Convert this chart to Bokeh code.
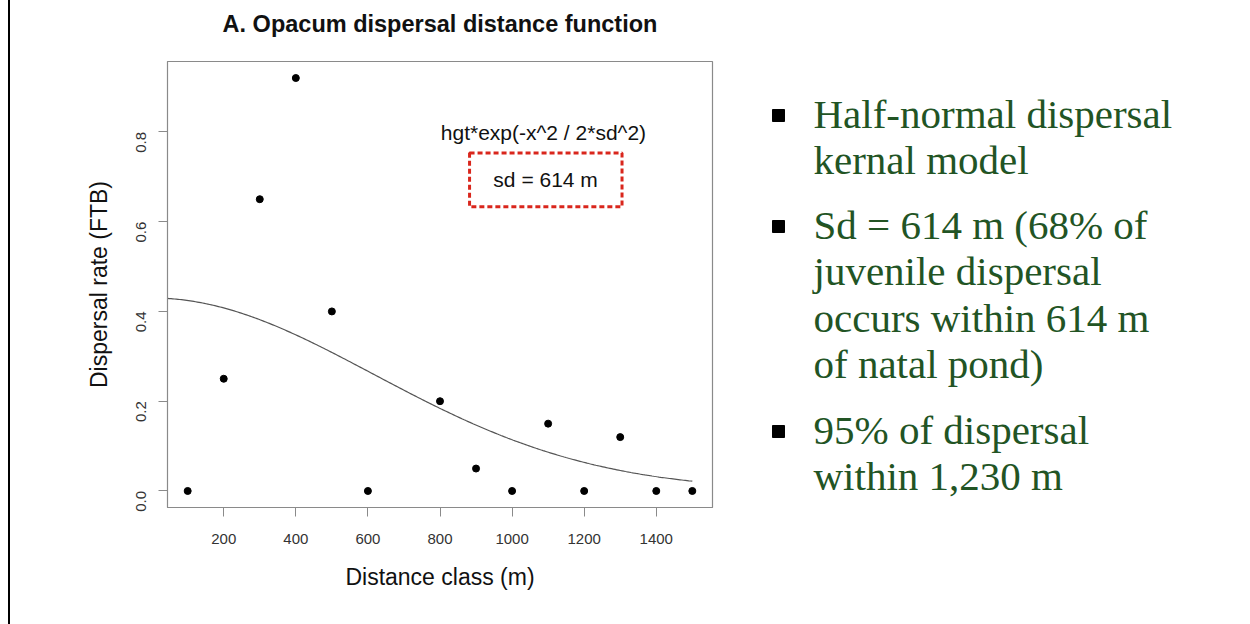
import math
import numpy as np
from bokeh.plotting import figure
from bokeh.models import (FixedTicker, PrintfTickFormatter, Label, BoxAnnotation,
                          Range1d, Div, LinearAxis)
from bokeh.layouts import row
from bokeh.embed import file_html
from bokeh.resources import INLINE
from bokeh.core.properties import value

# ---------------- data ----------------
distance = [100, 200, 300, 400, 500, 600, 800, 900, 1000, 1100, 1200, 1300, 1400, 1500]
rate = [0.0, 0.25, 0.65, 0.92, 0.40, 0.0, 0.20, 0.05, 0.0, 0.15, 0.0, 0.12, 0.0, 0.0]
x_ticks = [200, 400, 600, 800, 1000, 1200, 1400]
y_ticks = [0.0, 0.2, 0.4, 0.6, 0.8]
# fitted half-normal kernel parameters
hgt = 0.43
sd = 614
curve_x = np.linspace(44, 1500, 300)
curve_y = hgt * np.exp(-curve_x ** 2 / (2 * sd ** 2))

title_text = "A. Opacum dispersal distance function"
x_label = "Distance class (m)"
y_label = "Dispersal rate (FTB)"
formula_text = "hgt*exp(-x^2 / 2*sd^2)"
sd_text = "sd = 614 m"

bullet_lines = [
    ["Half-normal dispersal", "kernal model"],
    ["Sd = 614 m (68% of", "juvenile dispersal", "occurs within 614 m", "of natal pond)"],
    ["95% of dispersal", "within 1,230 m"],
]

# ---------------- chart ----------------
FONT = "Liberation Sans"
GREY = "#8a8a8a"

p = figure(width=730, height=624,
           x_range=Range1d(44, 1556), y_range=Range1d(-0.0368, 0.9568),
           output_backend="svg", toolbar_location=None,
           min_border_left=157, min_border_right=28,
           min_border_top=61, min_border_bottom=117)
p.background_fill_color = "white"
p.border_fill_color = "white"
p.grid.visible = False
p.outline_line_color = GREY
p.outline_line_width = 1.2

for ax in (p.xaxis[0], p.yaxis[0]):
    ax.axis_line_color = GREY
    ax.major_tick_line_color = GREY
    ax.major_tick_out = 9
    ax.major_tick_in = 0
    ax.minor_tick_line_color = None
    ax.major_label_text_font = FONT
    ax.major_label_text_font_size = "15px"
    ax.major_label_text_color = "#333333"
    ax.axis_label_text_font = FONT
    ax.axis_label_text_font_size = "23px"
    ax.axis_label_text_font_style = "normal"
    ax.axis_label_text_color = "#111111"

p.xaxis.ticker = FixedTicker(ticks=x_ticks)
p.yaxis.ticker = FixedTicker(ticks=y_ticks)
p.yaxis.formatter = PrintfTickFormatter(format="%.1f")
p.yaxis.major_label_orientation = math.pi / 2
p.xaxis.axis_label = x_label
p.yaxis.axis_label = y_label
p.xaxis.major_label_standoff = 17
p.xaxis.axis_label_standoff = 17
p.yaxis.major_label_standoff = 17
p.yaxis.axis_label_standoff = 17

# chart title: label of a tick-less axis above the frame (centred on the frame)
top_axis = LinearAxis(axis_label=title_text, ticker=FixedTicker(ticks=[]),
                      axis_line_color=None, major_tick_line_color=None,
                      minor_tick_line_color=None, major_tick_out=0, major_tick_in=0,
                      major_label_standoff=0, major_label_text_font_size="0px",
                      axis_label_standoff=25, axis_label_text_font=FONT,
                      axis_label_text_font_size="23.5px",
                      axis_label_text_font_style="bold",
                      axis_label_text_color="#111111")
p.add_layout(top_axis, "above")

p.line(curve_x, curve_y, line_color="#555555", line_width=1.2)
p.scatter(distance, rate, size=7, color="black")

p.add_layout(Label(x=1087, y=0.798, text=formula_text, text_align="center",
                   text_baseline="middle", text_font=FONT, text_font_size="21px",
                   text_color="#111111"))
p.add_layout(Label(x=1093, y=0.693, text=sd_text, text_align="center",
                   text_baseline="middle", text_font=FONT, text_font_size="21px",
                   text_color="#111111"))
p.add_layout(BoxAnnotation(left=882, right=1305, bottom=0.633, top=0.753,
                           fill_color=None, fill_alpha=0, line_color="#d9261c",
                           line_alpha=1.0, line_width=3, line_dash="5 3"))

# ---------------- bullet text panel ----------------
# frame of this panel is aligned with the chart's frame (page y 61..507)
t = figure(width=510, height=624, x_range=Range1d(0, 510), y_range=Range1d(507, 61),
           output_backend="svg", toolbar_location=None,
           x_axis_type=None, y_axis_type=None, min_border=0)
t.grid.visible = False
t.outline_line_color = None
t.background_fill_color = "white"
t.border_fill_color = "white"

first_lines = [113, 224, 429]
line_step = 46.5
text_x, text_y, text_s = [], [], []
bx, by = [], []
for start, lines in zip(first_lines, bullet_lines):
    bx.append(38)
    by.append(start + 2)
    for i, s in enumerate(lines):
        text_x.append(73)
        text_y.append(start + i * line_step)
        text_s.append(s)

t.text(x=text_x, y=text_y, text=text_s, text_font=value("Liberation Serif"),
       text_font_size="41px", text_color="#225424", text_baseline="alphabetic",
       text_align="left")
t.scatter(bx, by, marker="square", size=12, color="black")

left_pad = Div(width=8, height=624, margin=0)
border = Div(width=2, height=624, margin=0, styles={"background-color": "black"})

layout = row(left_pad, border, p, t)
open("out.html", "w").write(file_html(layout, INLINE))
